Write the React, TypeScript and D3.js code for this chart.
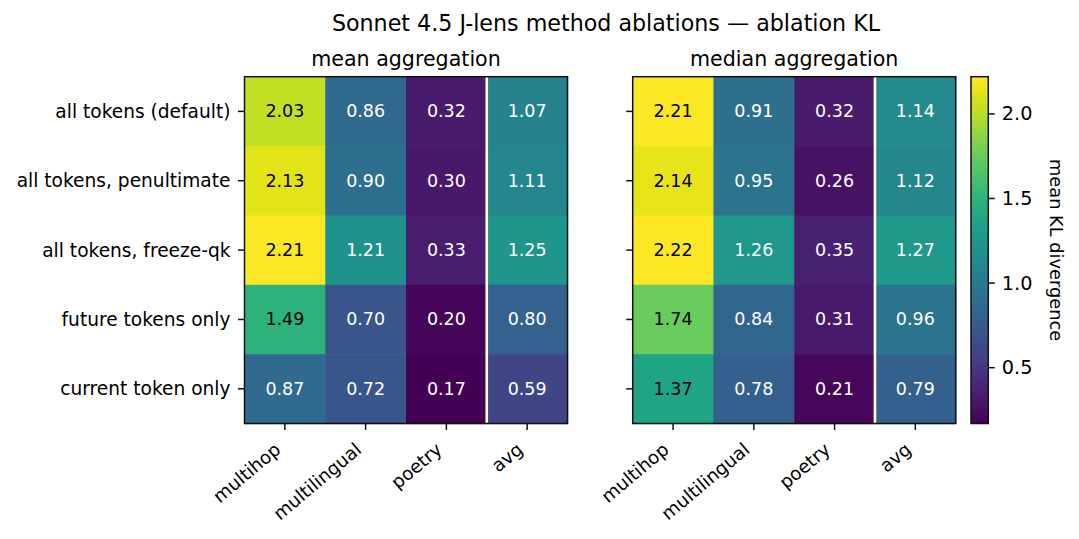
import React from "react";
import * as d3 from "d3";

// ---- data ----
const rowLabels = [
  "all tokens (default)",
  "all tokens, penultimate",
  "all tokens, freeze-qk",
  "future tokens only",
  "current token only",
];
const colLabels = ["multihop", "multilingual", "poetry", "avg"];

// mean aggregation (rows x cols)
const meanKL = [
  [2.03, 0.86, 0.32, 1.07],
  [2.13, 0.9, 0.3, 1.11],
  [2.21, 1.21, 0.33, 1.25],
  [1.49, 0.7, 0.2, 0.8],
  [0.87, 0.72, 0.17, 0.59],
];
// median aggregation
const medianKL = [
  [2.21, 0.91, 0.32, 1.14],
  [2.14, 0.95, 0.26, 1.12],
  [2.22, 1.26, 0.35, 1.27],
  [1.74, 0.84, 0.31, 0.96],
  [1.37, 0.78, 0.21, 0.79],
];
const panelTitles = ["mean aggregation", "median aggregation"];
const cbarTicks = [0.5, 1.0, 1.5, 2.0];

const TITLE = "Sonnet 4.5 J-lens method ablations \u2014 ablation KL";
const CBAR_LABEL = "mean KL divergence";

// ---- layout ----
const W = 1079;
const H = 539;
const FONT = "'DejaVu Sans', sans-serif";
const panelLeft = [244.5, 632.7];
const panelTop = 76.7;
const panelW = 323;
const panelH = 346.8;
const cbarX = 971;
const cbarW = 17.3;
const tickLen = 6.5;
const ink = "#111";

const allVals = [...meanKL.flat(), ...medianKL.flat()];
const vmin = d3.min(allVals) as number;
const vmax = d3.max(allVals) as number;
const color = d3.scaleSequential(d3.interpolateViridis).domain([vmin, vmax]);

function Heatmap({ x0, data, title, showYLabels }: any) {
  const xs = d3.scaleBand().domain(colLabels).range([x0, x0 + panelW]);
  const ys = d3.scaleBand().domain(rowLabels).range([panelTop, panelTop + panelH]);
  const bottom = panelTop + panelH;
  const sepX = xs("avg") as number;
  return (
    <g>
      {/* cells */}
      {rowLabels.map((r, i) =>
        colLabels.map((c, j) => {
          const v = data[i][j];
          return (
            <g key={r + c}>
              <rect
                x={xs(c)}
                y={ys(r)}
                width={xs.bandwidth() + 0.6}
                height={ys.bandwidth() + 0.6}
                fill={color(v)}
              />
              <text
                x={(xs(c) as number) + xs.bandwidth() / 2}
                y={(ys(r) as number) + ys.bandwidth() / 2}
                textAnchor="middle"
                dominantBaseline="central"
                fontSize={17.5}
                fill={v > 1.3 ? "black" : "white"}
              >
                {v.toFixed(2)}
              </text>
            </g>
          );
        })
      )}
      {/* separator before avg column */}
      <line x1={sepX} x2={sepX} y1={panelTop} y2={bottom} stroke="white" strokeWidth={2.6} />
      {/* frame */}
      <rect x={x0} y={panelTop} width={panelW} height={panelH} fill="none" stroke={ink} strokeWidth={1.5} />
      {/* y ticks */}
      {rowLabels.map((r) => {
        const y = (ys(r) as number) + ys.bandwidth() / 2;
        return (
          <g key={r}>
            <line x1={x0 - tickLen} x2={x0} y1={y} y2={y} stroke={ink} strokeWidth={1.5} />
            {showYLabels && (
              <text x={x0 - tickLen - 7.5} y={y} textAnchor="end" dominantBaseline="central" fontSize={18.6}>
                {r}
              </text>
            )}
          </g>
        );
      })}
      {/* x ticks */}
      {colLabels.map((c) => {
        const x = (xs(c) as number) + xs.bandwidth() / 2;
        const bx = x - 3;
        const by = bottom + 28;
        return (
          <g key={c}>
            <line x1={x} x2={x} y1={bottom} y2={bottom + tickLen} stroke={ink} strokeWidth={1.5} />
            <text x={bx} y={by} textAnchor="end" fontSize={18.3} transform={`rotate(-40, ${bx}, ${by})`}>
              {c}
            </text>
          </g>
        );
      })}
      {/* panel title */}
      <text x={x0 + panelW / 2} y={66} textAnchor="middle" fontSize={20.6}>
        {title}
      </text>
    </g>
  );
}

function Colorbar() {
  const y = d3.scaleLinear().domain([vmin, vmax]).range([panelTop + panelH, panelTop]);
  const stops = d3.range(0, 1.0001, 0.05);
  return (
    <g>
      <defs>
        <linearGradient id="cbar" x1="0" y1="1" x2="0" y2="0">
          {stops.map((t) => (
            <stop key={t} offset={t} stopColor={color(vmin + t * (vmax - vmin))} />
          ))}
        </linearGradient>
      </defs>
      <rect x={cbarX} y={panelTop} width={cbarW} height={panelH} fill="url(#cbar)" stroke={ink} strokeWidth={1.5} />
      {cbarTicks.map((t) => (
        <g key={t}>
          <line x1={cbarX + cbarW} x2={cbarX + cbarW + tickLen} y1={y(t)} y2={y(t)} stroke={ink} strokeWidth={1.5} />
          <text x={cbarX + cbarW + tickLen + 7} y={y(t)} dominantBaseline="central" fontSize={19.3}>
            {t.toFixed(1)}
          </text>
        </g>
      ))}
      <text
        x={1056}
        y={panelTop + panelH / 2}
        textAnchor="middle"
        dominantBaseline="central"
        fontSize={17.8}
        transform={`rotate(90, 1056, ${panelTop + panelH / 2})`}
      >
        {CBAR_LABEL}
      </text>
    </g>
  );
}

export default function App() {
  return (
    <svg
      width={W}
      height={H}
      viewBox={`0 0 ${W} ${H}`}
      style={{ position: "absolute", left: 0, top: 0, background: "white" }}
      fontFamily={FONT}
    >
      <rect width={W} height={H} fill="white" />
      <text x={606} y={31} textAnchor="middle" fontSize={22.2}>
        {TITLE}
      </text>
      <Heatmap x0={panelLeft[0]} data={meanKL} title={panelTitles[0]} showYLabels={true} />
      <Heatmap x0={panelLeft[1]} data={medianKL} title={panelTitles[1]} showYLabels={false} />
      <Colorbar />
    </svg>
  );
}
